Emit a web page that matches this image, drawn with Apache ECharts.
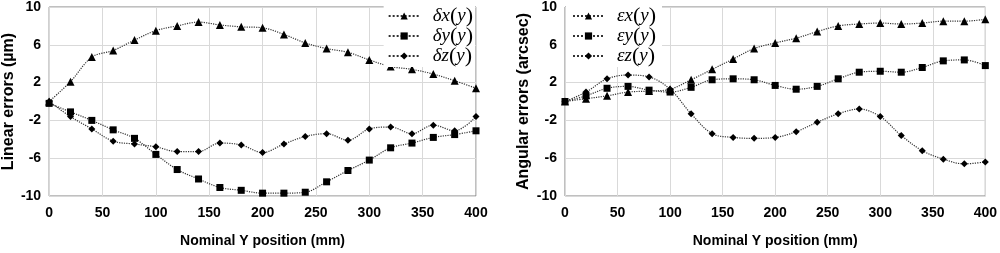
<!DOCTYPE html>
<html>
<head>
<meta charset="utf-8">
<script src="https://cdn.jsdelivr.net/npm/echarts@6/dist/echarts.min.js"></script>
<style>
  html, body { margin: 0; padding: 0; background: #fff; }
  #chart { width: 1000px; height: 253px; }
</style>
</head>
<body>
<div id="chart"></div>
<script>
const positions = [0, 20, 40, 60, 80, 100, 120, 140, 160, 180, 200, 220, 240, 260, 280, 300, 320, 340, 360, 380, 400];
const yTicks = [-10, -6, -2, 2, 6, 10];

// linear errors (µm)
const deltaX = [0, 2.1, 4.7, 5.4, 6.5, 7.5, 8.0, 8.4, 8.1, 7.9, 7.8, 7.1, 6.2, 5.6, 5.2, 4.4, 3.7, 3.4, 2.9, 2.2, 1.4];
const deltaY = [-0.2, -1.1, -2.0, -3.0, -3.9, -5.6, -7.2, -8.2, -9.1, -9.4, -9.7, -9.7, -9.6, -8.5, -7.3, -6.2, -4.9, -4.4, -3.8, -3.5, -3.1];
const deltaZ = [0, -1.6, -2.9, -4.2, -4.5, -4.8, -5.3, -5.3, -4.4, -4.6, -5.4, -4.5, -3.7, -3.4, -4.1, -2.9, -2.7, -3.4, -2.5, -3.1, -1.6];

// angular errors (arcsec)
const epsX = [0, 0.3, 0.6, 1.0, 1.1, 1.3, 2.3, 3.4, 4.5, 5.6, 6.2, 6.7, 7.4, 8.0, 8.2, 8.3, 8.2, 8.3, 8.5, 8.5, 8.7];
const epsY = [0, 0.6, 1.4, 1.6, 1.2, 1.0, 1.5, 2.3, 2.4, 2.3, 1.7, 1.3, 1.6, 2.4, 3.1, 3.2, 3.1, 3.6, 4.3, 4.4, 3.8];
const epsZ = [0, 1.0, 2.4, 2.8, 2.6, 1.3, -1.3, -3.4, -3.8, -3.9, -3.8, -3.2, -2.2, -1.3, -0.8, -1.6, -3.6, -5.2, -6.1, -6.6, -6.4];

const font = 'Liberation Sans, Arial, sans-serif';
const labelStyle = { fontFamily: font, fontWeight: 'bold', fontSize: 14, color: '#000' };

const xAxisFor = (gridIndex) => ({
  type: 'value',
  gridIndex,
  min: 0,
  max: 400,
  interval: 50,
  name: 'Nominal Y position (mm)',
  nameLocation: 'middle',
  nameGap: 38,
  nameTextStyle: labelStyle,
  axisLine: { show: false },
  axisTick: { show: false },
  axisLabel: { ...labelStyle, margin: 10 },
  splitLine: { show: true, lineStyle: { color: '#d9d9d9', width: 1 } },
});

const yAxisFor = (gridIndex, name, nameGap) => ({
  type: 'value',
  gridIndex,
  min: -10,
  max: 10,
  name,
  nameLocation: 'middle',
  nameGap,
  nameTextStyle: { ...labelStyle, fontSize: 16 },
  axisLine: { show: false },
  axisTick: { show: false, customValues: yTicks },
  axisLabel: { ...labelStyle, margin: 8, customValues: yTicks },
  splitLine: { show: true, lineStyle: { color: '#d9d9d9', width: 1 } },
});

const lineSeries = (name, data, symbol, size, idx) => ({
  name,
  type: 'line',
  xAxisIndex: idx,
  yAxisIndex: idx,
  data: positions.map((p, i) => [p, data[i]]),
  smooth: 0.35,
  symbol,
  symbolSize: size,
  showSymbol: true,
  itemStyle: { color: '#000' },
  lineStyle: { color: '#333', width: 1.2, type: 'dotted' },
});

const serif = 'Liberation Serif, Times New Roman, serif';
const legendRich = {
  s: { width: 8, fontSize: 10 },
  i: { fontFamily: serif, fontStyle: 'italic', fontSize: 19, color: '#000' },
  p: { fontFamily: serif, fontSize: 22, color: '#000' },
};
const legendFormatter = (name) => {
  const m = name.match(/^(.*)\((.*)\)$/);
  return '{s| }{i|' + m[1] + '}{p|(}{i|' + m[2] + '}{p|)}';
};

const legendBase = {
  orient: 'vertical',
  top: 5,
  itemWidth: 31,
  itemHeight: 9,
  itemGap: -2,
  backgroundColor: '#fff',
  formatter: legendFormatter,
  textStyle: { rich: legendRich },
};

const option = {
  animation: false,
  backgroundColor: '#fff',
  grid: [
    { left: 48, right: 524, top: 6, bottom: 53, show: true, borderColor: '#808080', borderWidth: 1, backgroundColor: 'transparent' },
    { left: 565, right: 8, top: 6, bottom: 53, show: true, borderColor: '#808080', borderWidth: 1, backgroundColor: 'transparent' },
  ],
  legend: [
    {
      ...legendBase,
      data: ['δx(y)', 'δy(y)', 'δz(y)'],
      right: 525,
      padding: [0, 2, 0, 4],
    },
    {
      ...legendBase,
      data: ['εx(y)', 'εy(y)', 'εz(y)'],
      left: 566,
      padding: [0, 6, 0, 6],
    },
  ],
  xAxis: [xAxisFor(0), xAxisFor(1)],
  yAxis: [yAxisFor(0, 'Linear errors (µm)', 30), yAxisFor(1, 'Angular errors (arcsec)', 33)],
  series: [
    lineSeries('δx(y)', deltaX, 'triangle', 8, 0),
    lineSeries('δy(y)', deltaY, 'rect', 7, 0),
    lineSeries('δz(y)', deltaZ, 'diamond', 7, 0),
    lineSeries('εx(y)', epsX, 'triangle', 8, 1),
    lineSeries('εy(y)', epsY, 'rect', 7, 1),
    lineSeries('εz(y)', epsZ, 'diamond', 7, 1),
  ],
};

const chart = echarts.init(document.getElementById('chart'), null, { renderer: 'canvas' });
chart.setOption(option);
</script>
</body>
</html>
